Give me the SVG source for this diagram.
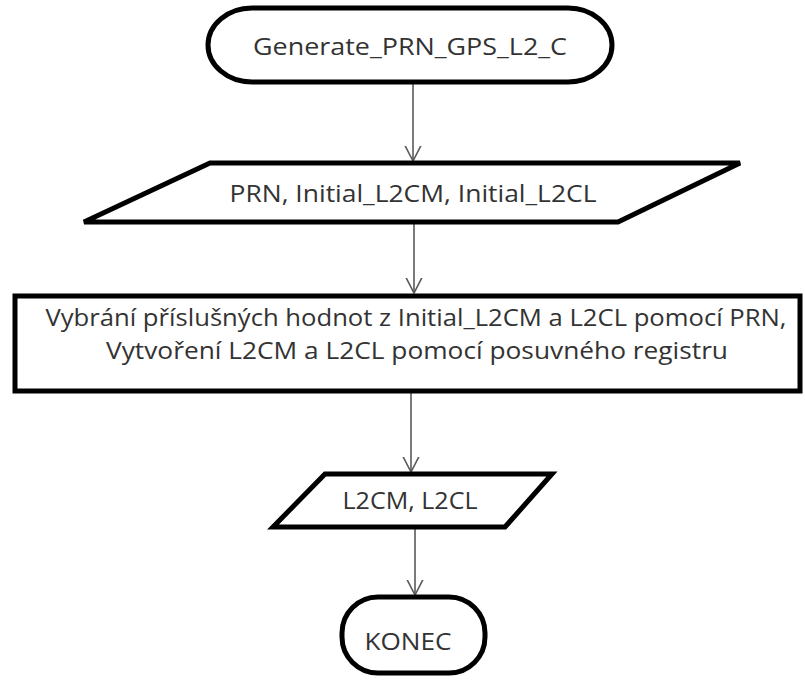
<svg xmlns="http://www.w3.org/2000/svg" width="805" height="681" viewBox="0 0 805 681">
  <style>
    .shape { fill: #ffffff; stroke: #000000; stroke-width: 5; stroke-linejoin: miter; }
    .label { font-family: "Open Sans", "Liberation Sans", sans-serif; font-size: 24px; fill: #333333; text-anchor: middle; }
    .flow { stroke: #5a5a5a; stroke-width: 1.6; fill: none; marker-end: url(#openArrow); }
  </style>
  <defs>
    <marker id="openArrow" markerUnits="userSpaceOnUse" viewBox="0 -9 17 18" refX="15.5" refY="0" markerWidth="17" markerHeight="18" orient="auto">
      <path d="M0,-8 L15.5,0 L0,8" fill="none" stroke="#5a5a5a" stroke-width="1.6"/>
    </marker>
  </defs>

  <rect width="805" height="681" fill="#ffffff"/>

  <!-- flow lines between the steps -->
  <g id="connectors">
    <line class="flow" x1="413" y1="84" x2="413" y2="161"/>
    <line class="flow" x1="414" y1="224" x2="414" y2="293"/>
    <line class="flow" x1="411" y1="393" x2="411" y2="472"/>
    <line class="flow" x1="415" y1="529" x2="415" y2="595"/>
  </g>

  <g id="start">
    <rect class="shape" x="208" y="8" width="404" height="74" rx="44" ry="37"/>
    <text class="label" x="410" y="55" font-size="25" textLength="314" lengthAdjust="spacingAndGlyphs">Generate_PRN_GPS_L2_C</text>
  </g>

  <g id="input">
    <polygon class="shape" points="210,163 740,163 618,222 84,222"/>
    <text class="label" x="413" y="202" textLength="367" lengthAdjust="spacingAndGlyphs">PRN, Initial_L2CM, Initial_L2CL</text>
  </g>

  <g id="process">
    <rect class="shape" x="15" y="296" width="785" height="95"/>
    <text class="label" x="416" y="326" textLength="741" lengthAdjust="spacingAndGlyphs">Vybrání příslušných hodnot z Initial_L2CM a L2CL pomocí PRN,</text>
    <text class="label" x="417" y="359" textLength="622" lengthAdjust="spacingAndGlyphs">Vytvoření  L2CM a L2CL pomocí posuvného registru</text>
  </g>

  <g id="output">
    <polygon class="shape" points="325,474 552,474 505,527 273,527"/>
    <text class="label" x="410" y="509" textLength="135" lengthAdjust="spacingAndGlyphs">L2CM, L2CL</text>
  </g>

  <g id="end">
    <rect class="shape" x="342" y="597" width="143" height="76" rx="36" ry="36"/>
    <text class="label" x="408" y="650" textLength="87" lengthAdjust="spacingAndGlyphs">KONEC</text>
  </g>
</svg>
